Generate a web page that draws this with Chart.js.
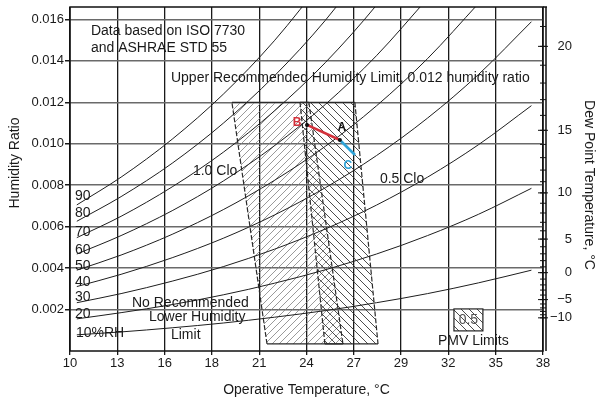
<!DOCTYPE html>
<html><head><meta charset="utf-8">
<script src="https://cdn.jsdelivr.net/npm/chart.js@4/dist/chart.umd.min.js"></script>
<style>html,body{margin:0;padding:0;background:#fff;}canvas{display:block;}</style>
</head><body>
<canvas id="c" width="599" height="401"></canvas>
<script>
// ---------- data ----------
const xTickValues = [10, 12.78, 15.56, 18.33, 21.11, 23.89, 26.67, 29.44, 32.22, 35, 37.78];
const xTickLabels = ['10','13','16','18','21','24','27','29','32','35','38'];
const yTickValues = [0.002, 0.004, 0.006, 0.008, 0.010, 0.012, 0.014, 0.016];
const yTickLabels = ['0.002','0.004','0.006','0.008','0.010','0.012','0.014','0.016'];
const dewTickLabels = ['20','15','10','5','0','\u22125','\u221210'];
const dewTickValues = [0.01470, 0.01065, 0.00763, 0.00540, 0.00378, 0.00248, 0.00160];
const dewMinorValues = [0.00160,0.00175,0.00191,0.00208,0.00227,0.00248,0.00270,0.00294,0.00319,0.00347,
  0.00378,0.00406,0.00436,0.00469,0.00503,0.00540,0.00580,0.00621,0.00666,0.00713,
  0.00763,0.00817,0.00873,0.00933,0.00997,0.01065,0.01137,0.01213,0.01293,0.01379,0.01470,0.01566];

const rhTemps = [10.4, 13, 16, 19, 22, 25, 28, 31, 34, 37.1];
const rh90 = [0.00705,0.00839,0.01022,0.01239,0.01497,0.01802];
const rh80 = [0.00626,0.00745,0.00906,0.01099,0.01327,0.01596,0.01915];
const rh70 = [0.00547,0.00650,0.00792,0.00959,0.01158,0.01392,0.01669,0.01993];
const rh60 = [0.00468,0.00557,0.00677,0.00820,0.00990,0.01190,0.01425,0.01701];
const rh50 = [0.00390,0.00463,0.00563,0.00682,0.00823,0.00988,0.01183,0.01411,0.01678];
const rh40 = [0.00311,0.00370,0.00450,0.00544,0.00656,0.00788,0.00943,0.01124,0.01335,0.01589];
const rh30 = [0.00233,0.00277,0.00337,0.00407,0.00491,0.00589,0.00704,0.00839,0.00996,0.01184];
const rh20 = [0.00155,0.00185,0.00224,0.00271,0.00327,0.00392,0.00468,0.00557,0.00660,0.00785];
const rh10 = [0.00078,0.00092,0.00112,0.00135,0.00163,0.00195,0.00233,0.00277,0.00329,0.00390];
const rhSeries = [rh90, rh80, rh70, rh60, rh50, rh40, rh30, rh20, rh10];

// comfort zones (operative temperature, humidity ratio), closed polygons
const clo10T = [19.51, 24.03, 26.03, 21.57, 19.51];
const clo10W = [0.0120, 0.0120, 0.00034, 0.00034, 0.0120];
const clo05T = [23.51, 26.73, 28.09, 24.97, 23.51];
const clo05W = [0.0120, 0.0120, 0.00034, 0.00034, 0.0120];

// process lines B -> A -> C
const procBA_T = [23.92, 25.85];
const procBA_W = [0.01091, 0.01018];
const procAC_T = [25.85, 26.74];
const procAC_W = [0.01018, 0.00946];

// ---------- annotation config ----------
const FONT = '"Liberation Sans", Arial, Helvetica, sans-serif';
const notes = [
  {t:'Data based on ISO 7730', x:11.23, y:0.01544},
  {t:'and ASHRAE STD 55', x:11.23, y:0.01462},
  {t:'Upper Recommended Humidity Limit, 0.012 humidity ratio', x:15.93, y:0.01317},
  {t:'1.0 Clo', x:17.22, y:0.00869},
  {t:'0.5 Clo', x:28.20, y:0.00830},
  {t:'No Recommended', x:13.64, y:0.00232},
  {t:'Lower Humidity', x:14.64, y:0.00164},
  {t:'Limit', x:15.93, y:0.00077},
  {t:'10%RH', x:10.35, y:0.00087},
  {t:'90', x:10.29, y:0.00748},
  {t:'80', x:10.29, y:0.00666},
  {t:'70', x:10.29, y:0.00574},
  {t:'60', x:10.29, y:0.00487},
  {t:'50', x:10.29, y:0.00410},
  {t:'40', x:10.29, y:0.00333},
  {t:'30', x:10.29, y:0.00261},
  {t:'20', x:10.29, y:0.00179},
  {t:'PMV Limits', x:31.61, y:0.00048}
];
const letters = [
  {t:'A', x:25.97, y:0.01076, c:'#111'},
  {t:'B', x:23.33, y:0.01100, c:'#d3313b'},
  {t:'C', x:26.32, y:0.00893, c:'#2ea3d8'}
];
const pmvBox = {x0:32.55, x1:34.25, y0:0.00203, y1:0.00097, label:'0.5'};

// ---------- patterns ----------
const canvas = document.getElementById('c');
const mainCtx = canvas.getContext('2d');
function makeHatch(dir, s, color, lw) {
  const c = document.createElement('canvas'); c.width = s; c.height = s;
  const g = c.getContext('2d'); g.strokeStyle = color; g.lineWidth = lw;
  g.beginPath();
  if (dir === '/') {
    g.moveTo(0, s); g.lineTo(s, 0);
    g.moveTo(-1, 1); g.lineTo(1, -1);
    g.moveTo(s - 1, s + 1); g.lineTo(s + 1, s - 1);
  } else {
    g.moveTo(0, 0); g.lineTo(s, s);
    g.moveTo(s - 1, -1); g.lineTo(s + 1, 1);
    g.moveTo(-1, s - 1); g.lineTo(1, s + 1);
  }
  g.stroke();
  return mainCtx.createPattern(c, 'repeat');
}
const hatch10 = makeHatch('/', 7, '#808080', 0.8);
const hatch05 = makeHatch('\\', 8, '#383838', 0.9);

const pts = (T, W) => T.map((t, i) => ({x: t, y: W[i]}));

const datasets = [];
datasets.push({data: pts(procBA_T, procBA_W), borderColor:'#d3313b', borderWidth:2.6,
  pointRadius:2, pointBackgroundColor:'#111', pointBorderWidth:0, tension:0, fill:false});
datasets.push({data: pts(procAC_T, procAC_W), borderColor:'#2ea3d8', borderWidth:2.6,
  pointRadius:0, tension:0, fill:false});
rhSeries.forEach(s => {
  datasets.push({data: pts(rhTemps.slice(0, s.length), s), borderColor:'#1e1e1e', borderWidth:1,
    pointRadius:0, cubicInterpolationMode:'monotone', fill:false});
});
const zoneSeg = {borderDash: ctx => (ctx.p0.parsed.y === ctx.p1.parsed.y ? [] : [5, 2])};
// outlines
datasets.push({data: pts(clo05T, clo05W), borderColor:'#2a2a2a', borderWidth:1.2, pointRadius:0,
  tension:0, fill:false, segment:zoneSeg});
datasets.push({data: pts(clo10T, clo10W), borderColor:'#2a2a2a', borderWidth:1.2, pointRadius:0,
  tension:0, fill:false, segment:zoneSeg});
// hatched fills
datasets.push({data: pts(clo05T, clo05W), borderColor:'rgba(0,0,0,0)', borderWidth:0, pointRadius:0,
  tension:0, fill:'shape', backgroundColor:hatch05});
datasets.push({data: pts(clo10T, clo10W), borderColor:'rgba(0,0,0,0)', borderWidth:0, pointRadius:0,
  tension:0, fill:'shape', backgroundColor:hatch10});

const decor = {
  id: 'decor',
  afterDatasetsDraw(chart) {
    const ctx = chart.ctx, a = chart.chartArea;
    const xs = chart.scales.x, ys = chart.scales.y;
    ctx.save();
    // frame
    ctx.strokeStyle = '#111'; ctx.lineWidth = 1.5;
    ctx.strokeRect(a.left, a.top, a.right - a.left, a.bottom - a.top);
    ctx.beginPath(); ctx.moveTo(a.right + 3, a.top); ctx.lineTo(a.right + 3, a.bottom);
    ctx.moveTo(a.right, a.top); ctx.lineTo(a.right + 4, a.top); ctx.stroke();
    // dew point ticks
    ctx.lineWidth = 1;
    ctx.beginPath();
    dewMinorValues.forEach(v => { const y = ys.getPixelForValue(v); ctx.moveTo(a.right - 3, y); ctx.lineTo(a.right + 3, y); });
    dewTickValues.forEach(v => { const y = ys.getPixelForValue(v); ctx.moveTo(a.right - 5, y); ctx.lineTo(a.right + 5, y); });
    ctx.stroke();
    // PMV legend box
    const bx0 = xs.getPixelForValue(pmvBox.x0), bx1 = xs.getPixelForValue(pmvBox.x1);
    const by0 = ys.getPixelForValue(pmvBox.y0), by1 = ys.getPixelForValue(pmvBox.y1);
    ctx.fillStyle = '#fff'; ctx.fillRect(bx0, by0, bx1 - bx0, by1 - by0);
    ctx.fillStyle = hatch05; ctx.fillRect(bx0, by0, bx1 - bx0, by1 - by0);
    ctx.strokeStyle = '#222'; ctx.lineWidth = 1.2; ctx.strokeRect(bx0, by0, bx1 - bx0, by1 - by0);
    ctx.font = '14px ' + FONT; ctx.fillStyle = '#555'; ctx.textAlign = 'center'; ctx.textBaseline = 'middle';
    ctx.fillText(pmvBox.label, (bx0 + bx1) / 2, (by0 + by1) / 2);
    // notes
    ctx.fillStyle = '#1a1a1a'; ctx.textAlign = 'left';
    notes.forEach(n => ctx.fillText(n.t, xs.getPixelForValue(n.x), ys.getPixelForValue(n.y)));
    ctx.font = 'bold 12px ' + FONT; ctx.textAlign = 'center';
    letters.forEach(n => { ctx.fillStyle = n.c; ctx.fillText(n.t, xs.getPixelForValue(n.x), ys.getPixelForValue(n.y)); });
    // vertical axis titles
    ctx.font = '14px ' + FONT; ctx.fillStyle = '#1a1a1a';
    ctx.save(); ctx.translate(15, 163); ctx.rotate(-Math.PI / 2); ctx.fillText('Humidity Ratio', 0, 0); ctx.restore();
    ctx.save(); ctx.translate(589, 185); ctx.rotate(Math.PI / 2); ctx.fillText('Dew Point Temperature, \u00B0C', 0, 0); ctx.restore();
    ctx.restore();
  }
};

new Chart(canvas, {
  type: 'line',
  data: {datasets},
  options: {
    responsive: false, animation: false, devicePixelRatio: 1,
    layout: {padding: {top: 7, left: 0, right: 27, bottom: 0}},
    plugins: {legend: {display: false}, tooltip: {enabled: false}},
    scales: {
      x: {
        type: 'linear', position: 'bottom', min: xTickValues[0], max: xTickValues[xTickValues.length - 1],
        afterBuildTicks: s => { s.ticks = xTickValues.map(v => ({value: v})); },
        afterFit: s => { s.height = 50; s.paddingLeft = 0; s.paddingRight = 0; },
        ticks: {autoSkip: false, maxRotation: 0, padding: 1, color: '#1a1a1a', font: {family: FONT, size: 13},
          callback: (v, i) => xTickLabels[i]},
        grid: {color: '#1a1a1a', lineWidth: 1.3, tickLength: 4, tickColor: '#1a1a1a'},
        border: {display: false},
        title: {display: true, text: 'Operative Temperature, \u00B0C', color: '#1a1a1a',
          font: {family: FONT, size: 14}, padding: {top: 0, bottom: 2}}
      },
      y: {
        type: 'linear', position: 'left', min: 0, max: 0.0166,
        afterBuildTicks: s => { s.ticks = yTickValues.map(v => ({value: v})); },
        afterFit: s => { s.width = 70; s.paddingTop = 0; s.paddingBottom = 0; },
        ticks: {autoSkip: false, padding: 1, color: '#1a1a1a', font: {family: FONT, size: 13},
          callback: (v, i) => yTickLabels[i]},
        grid: {color: '#6a6a6a', lineWidth: 1.5, tickLength: 5, tickColor: '#1a1a1a'},
        border: {display: false}
      },
      y2: {
        type: 'linear', position: 'right', min: 0, max: 0.0166,
        afterBuildTicks: s => { s.ticks = dewTickValues.map(v => ({value: v})); },
        afterFit: s => { s.width = 29; s.paddingTop = 0; s.paddingBottom = 0; },
        ticks: {autoSkip: false, padding: 7, crossAlign: 'far', color: '#1a1a1a', font: {family: FONT, size: 13},
          callback: (v, i) => dewTickLabels[i]},
        grid: {display: false, drawTicks: false},
        border: {display: false}
      }
    }
  },
  plugins: [decor]
});
</script>
</body></html>
